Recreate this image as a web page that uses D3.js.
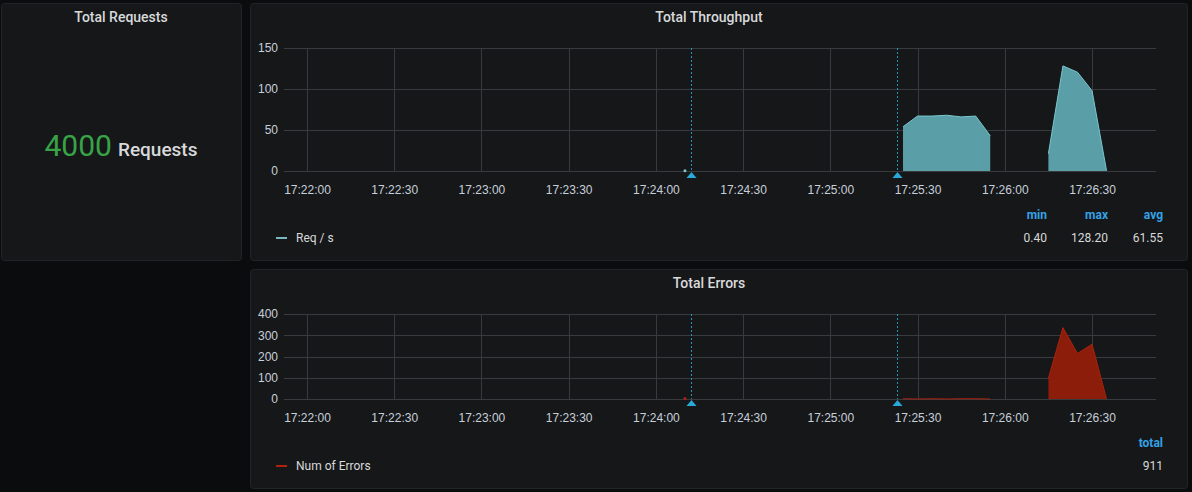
<!DOCTYPE html>
<head>
<meta charset="utf-8">
<style>
body { margin: 0; background: #0b0c0e; }
svg { display: block; font-family: Roboto, "Noto Sans", sans-serif; }
.panel { fill: #161719; stroke: #222427; stroke-width: 1; }
.title { fill: #d8d9da; font-size: 14px; font-weight: 500; text-anchor: middle; }
.axis text { fill: #c7d0d9; font-size: 12px; }
.axis path, .axis line { display: none; }
.grid line { stroke: #383a3e; stroke-width: 1; }
.annot { stroke: #2493b5; stroke-width: 1; stroke-dasharray: 2,2; }
.annot-mark { fill: #29a9d8; }
.leg-head { fill: #33a2e5; font-size: 12px; font-weight: 700; text-anchor: end; }
.leg-val { fill: #d8d9da; font-size: 12px; text-anchor: end; }
.leg-name { fill: #d8d9da; font-size: 12px; }
</style>
<script src="https://d3js.org/d3.v7.min.js"></script>
</head>
<body>
<svg width="1192" height="492"></svg>
<script>

// ---- data ----
var times = ["17:24:10","17:24:15","17:24:20","17:24:25","17:24:30","17:24:35","17:24:40","17:24:45","17:24:50","17:24:55",
             "17:25:00","17:25:05","17:25:10","17:25:15","17:25:20","17:25:25","17:25:30","17:25:35","17:25:40","17:25:45",
             "17:25:50","17:25:55","17:26:00","17:26:05","17:26:10","17:26:15","17:26:20","17:26:25","17:26:30","17:26:35"];
var reqPerSec = [0.4,null,null,null,null,null,null,null,null,null,
                 null,null,null,null,null,54,67,67,68,66,
                 67,43,null,null,null,21,128.2,120.5,98,0.4];
var numErrors = [2,null,null,null,null,null,null,null,null,null,
                 null,null,null,null,null,1,0,1,0,1,
                 1,0,null,null,null,97,336,214,258,0];
var annotations = ["17:24:12","17:25:23"];
var xTicks = ["17:22:00","17:22:30","17:23:00","17:23:30","17:24:00","17:24:30","17:25:00","17:25:30","17:26:00","17:26:30"];
var throughputTicks = [0,50,100,150];
var errorTicks = [0,100,200,300,400];
var throughputStatNames = ["min","max","avg"];
var throughputStatValues = ["0.40","128.20","61.55"];
var errorStatNames = ["total"];
var errorStatValues = ["911"];
var totalRequests = 4000;

var parseT = d3.timeParse("%H:%M:%S");
var svg = d3.select("svg");

// panels
function panel(x, y, w, h) {
  svg.append("rect").attr("class", "panel").attr("x", x + 0.5).attr("y", y + 0.5)
    .attr("width", w).attr("height", h).attr("rx", 3);
}
panel(1, 3, 240, 257);
panel(250, 3, 937, 257);
panel(250, 269, 937, 219);

// stat panel
svg.append("text").attr("class", "title").attr("x", 121).attr("y", 22).text("Total Requests");
var stat = svg.append("text").attr("x", 121).attr("y", 156).attr("text-anchor", "middle");
stat.append("tspan").attr("fill", "#37a447").style("font-size", "30px").text(totalRequests);
stat.append("tspan").attr("fill", "#d8d9da").style("font-size", "19px").style("font-weight", 500)
  .attr("dx", 6).text("Requests");

// shared x scale
var x = d3.scaleTime()
    .domain([parseT("17:22:00"), parseT("17:26:30")])
    .range([307, 1092]);
var plotL = 284, plotR = 1156;

function graph(opt) {
  var y = d3.scaleLinear().domain(opt.domain).range([opt.bottom, opt.top]);
  var g = svg.append("g");

  svg.append("text").attr("class", "title").attr("x", 709).attr("y", opt.titleY).text(opt.title);

  var grid = g.append("g").attr("class", "grid");
  grid.selectAll("line.h").data(opt.yTicks).enter().append("line")
    .attr("x1", plotL).attr("x2", plotR)
    .attr("y1", function(d) { return Math.round(y(d)) + 0.5; })
    .attr("y2", function(d) { return Math.round(y(d)) + 0.5; });
  grid.selectAll("line.v").data(xTicks).enter().append("line")
    .attr("x1", function(d) { return Math.round(x(parseT(d))) + 0.5; })
    .attr("x2", function(d) { return Math.round(x(parseT(d))) + 0.5; })
    .attr("y1", opt.top).attr("y2", opt.bottom);

  g.append("g").attr("class", "axis")
    .attr("transform", "translate(" + (plotL - 2) + ",0)")
    .call(d3.axisLeft(y).tickValues(opt.yTicks).tickSize(0).tickPadding(4));

  g.append("g").attr("class", "axis")
    .attr("transform", "translate(0," + (opt.bottom + 8) + ")")
    .call(d3.axisBottom(x).tickValues(xTicks.map(parseT)).tickSize(0).tickPadding(6)
      .tickFormat(d3.timeFormat("%H:%M:%S")));

  var pts = times.map(function(t, i) { return {t: parseT(t), v: opt.values[i]}; });
  var defined = function(d) { return d.v != null; };

  var area = d3.area().defined(defined)
    .x(function(d) { return x(d.t); }).y0(y(0)).y1(function(d) { return y(d.v); });
  var line = d3.line().defined(defined)
    .x(function(d) { return x(d.t); }).y(function(d) { return y(d.v); });

  g.append("path").datum(pts).attr("d", area).attr("fill", opt.fill);
  g.append("path").datum(pts).attr("d", line).attr("fill", "none")
    .attr("stroke", opt.stroke).attr("stroke-width", 1);

  // isolated points
  var lone = pts.filter(function(d, i) {
    return defined(d) && (i === 0 || !defined(pts[i - 1])) && (i === pts.length - 1 || !defined(pts[i + 1]));
  });
  g.selectAll("circle.pt").data(lone).enter().append("circle")
    .attr("cx", function(d) { return x(d.t); }).attr("cy", function(d) { return y(d.v); })
    .attr("r", 1.5).attr("fill", opt.stroke);

  // annotations
  var an = g.selectAll("g.an").data(annotations).enter().append("g")
    .attr("transform", function(d) { return "translate(" + (Math.round(x(parseT(d))) + 0.5) + ",0)"; });
  an.append("line").attr("class", "annot").attr("y1", opt.top).attr("y2", opt.bottom);
  an.append("path").attr("class", "annot-mark")
    .attr("d", "M-5," + (opt.bottom + 7) + "L0," + (opt.bottom + 1) + "L5," + (opt.bottom + 7) + "Z");

  // legend
  g.append("line").attr("x1", 276).attr("x2", 287)
    .attr("y1", opt.legendY - 4).attr("y2", opt.legendY - 4)
    .attr("stroke", opt.legendColor).attr("stroke-width", 2);
  g.append("text").attr("class", "leg-name").attr("x", 296).attr("y", opt.legendY).text(opt.name);

  var colX = [1163, 1108, 1047].slice(0, opt.statNames.length).reverse();
  g.selectAll("text.h").data(opt.statNames).enter().append("text").attr("class", "leg-head")
    .attr("x", function(d, i) { return colX[i]; }).attr("y", opt.legendY - 23).text(function(d) { return d; });
  g.selectAll("text.v").data(opt.statValues).enter().append("text").attr("class", "leg-val")
    .attr("x", function(d, i) { return colX[i]; }).attr("y", opt.legendY).text(function(d) { return d; });
}

graph({
  title: "Total Throughput", titleY: 22,
  domain: [0, 150], top: 48, bottom: 171, yTicks: throughputTicks,
  values: reqPerSec, fill: "#5a9fa7", stroke: "#79c6cf",
  name: "Req / s", legendColor: "#7ab8bf", legendY: 242,
  statNames: throughputStatNames, statValues: throughputStatValues
});

graph({
  title: "Total Errors", titleY: 288,
  domain: [0, 400], top: 314, bottom: 399, yTicks: errorTicks,
  values: numErrors, fill: "#8c1d0b", stroke: "#a8220e",
  name: "Num of Errors", legendColor: "#b0220e", legendY: 470,
  statNames: errorStatNames, statValues: errorStatValues
});

</script>
</body>
</html>
